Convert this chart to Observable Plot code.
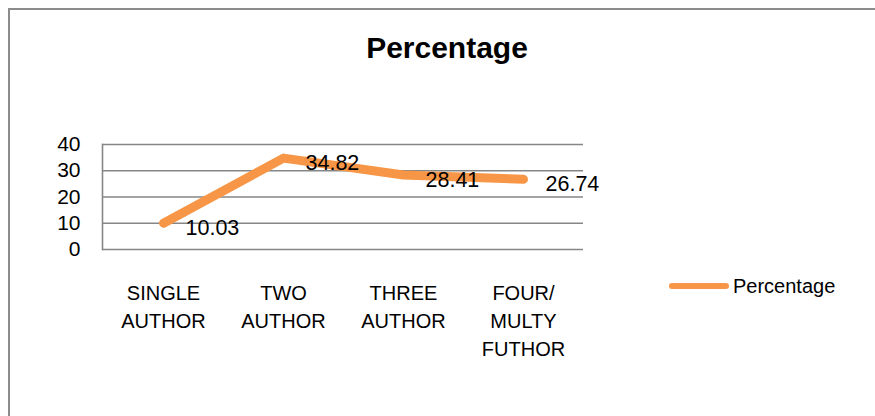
<!DOCTYPE html>
<html>
<head>
<meta charset="utf-8">
<script src="https://cdn.jsdelivr.net/npm/d3@7"></script>
<script src="https://cdn.jsdelivr.net/npm/@observablehq/plot@0.6"></script>
<style>
  html, body { margin: 0; padding: 0; background: #fff; }
  #wrap { position: relative; width: 875px; height: 416px; overflow: hidden; font-family: "Liberation Sans", Arial, sans-serif; color: #000; }
  #border { position: absolute; left: 8px; top: 8px; width: 900px; height: 440px; border-left: 2px solid #8c8c8c; border-top: 2px solid #8c8c8c; box-sizing: border-box; }
  #chart { position: absolute; left: 0; top: 0; }
  #title { position: absolute; left: 0; width: 894px; top: 33px; text-align: center; font-weight: bold; font-size: 30px; line-height: 30px; }
  #legend { position: absolute; left: 669px; top: 276px; display: flex; align-items: center; font-size: 20px; line-height: 20px; }
  #legend svg { margin-right: 4px; }
</style>
</head>
<body>
<div id="wrap">
  <div id="border"></div>
  <div id="chart"></div>
  <div id="title">Percentage</div>
  <div id="legend"></div>
</div>
<script>
const categories = ["SINGLE AUTHOR", "TWO AUTHOR", "THREE AUTHOR", "FOUR/ MULTY FUTHOR"];
const tickLabels = ["SINGLE\nAUTHOR", "TWO\nAUTHOR", "THREE\nAUTHOR", "FOUR/\nMULTY\nFUTHOR"];
const values = [10.03, 34.82, 28.41, 26.74];
const yTicks = [0, 10, 20, 30, 40];
const seriesName = "Percentage";
const lineColor = "#F79646";

const data = categories.map((c, i) => ({category: c, value: values[i]}));
const labelOf = new Map(categories.map((c, i) => [c, tickLabels[i]]));

const chart = Plot.plot({
  width: 875,
  height: 416,
  marginLeft: 102,
  marginRight: 292,
  marginTop: 144,
  marginBottom: 167,
  style: {fontFamily: "'Liberation Sans', Arial, sans-serif", fontSize: "20px", color: "#000", background: "transparent"},
  x: {type: "point", domain: categories, padding: 0.5},
  y: {domain: [0, 40]},
  marks: [
    Plot.ruleY(yTicks, {stroke: "#868686", strokeWidth: 1.6}),
    Plot.frame({anchor: "left", stroke: "#868686", strokeWidth: 1.6}),
    Plot.axisY({ticks: yTicks, tickSize: 0, tickPadding: 22, fontSize: 21, label: null}),
    Plot.axisX({tickSize: 0, tickPadding: 31, fontSize: 20, lineHeight: 1.4, label: null, tickFormat: d => labelOf.get(d)}),
    Plot.line(data, {x: "category", y: "value", stroke: lineColor, strokeWidth: 9, strokeLinecap: "round", strokeLinejoin: "round"}),
    Plot.text(data, {x: "category", y: "value", text: d => d.value.toFixed(2), dx: 22, dy: 5, textAnchor: "start", fontSize: 21.5, fill: "#000"})
  ]
});
document.getElementById("chart").appendChild(chart);

const legend = document.getElementById("legend");
legend.innerHTML = `<svg width="60" height="10"><line x1="3" y1="5" x2="57" y2="5" stroke="${lineColor}" stroke-width="6" stroke-linecap="round"/></svg><span>${seriesName}</span>`;
</script>
</body>
</html>
